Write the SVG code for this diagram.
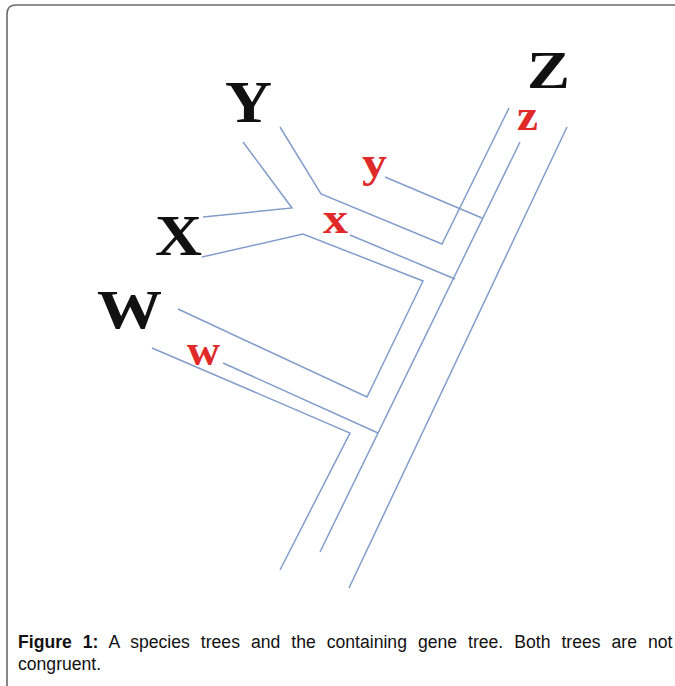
<svg xmlns="http://www.w3.org/2000/svg" width="675" height="686" viewBox="0 0 675 686">
<style>
.ln{fill:none;stroke:#829dcc;stroke-width:1.5;stroke-linejoin:miter}
.sp{font-family:"Liberation Serif","Times New Roman",serif;font-weight:bold;fill:#111}
.gn{font-family:"Liberation Serif","Times New Roman",serif;font-weight:bold;fill:#e02a2a}
.cap{font-family:"Liberation Sans",Arial,sans-serif;font-size:17.6px;fill:#111}
</style>
<rect width="675" height="686" fill="#fff"/>
<path d="M7 686 V14 Q7 5 16 5 H675" fill="none" stroke="#6a6a6a" stroke-width="1.6"/>
<g id="connectors">
<polyline class="ln" points="243,142 292,208 203,217"/>
<polyline class="ln" points="280,127 321,194 442,244 509,108"/>
<polyline class="ln" points="202,257 303,234 423,281 367,397 178,309"/>
<polyline class="ln" points="152,348 350,433 280,570"/>
<polyline class="ln" points="567,127 349,588"/>
<polyline class="ln" points="520,142 320,552"/>
<polyline class="ln" points="385,177 482,218"/>
<polyline class="ln" points="350,235 455,279"/>
<polyline class="ln" points="223,363 378,433"/>
</g>
<g id="node-Y"><text class="sp" x="225" y="122" font-size="59" textLength="47" lengthAdjust="spacingAndGlyphs">Y</text></g>
<g id="node-X"><text class="sp" x="155" y="255" font-size="56" textLength="47" lengthAdjust="spacingAndGlyphs">X</text></g>
<g id="node-W"><text class="sp" x="97" y="328" font-size="54" textLength="65" lengthAdjust="spacingAndGlyphs">W</text></g>
<g id="node-Z"><text class="sp" x="527" y="88" font-size="53" textLength="43" lengthAdjust="spacingAndGlyphs">Z</text></g>
<g id="node-y"><text class="gn" x="362" y="177" font-size="44" textLength="25" lengthAdjust="spacingAndGlyphs">y</text></g>
<g id="node-x"><text class="gn" x="323" y="233" font-size="44" textLength="25" lengthAdjust="spacingAndGlyphs">x</text></g>
<g id="node-z"><text class="gn" x="517" y="130" font-size="44" textLength="21" lengthAdjust="spacingAndGlyphs">z</text></g>
<g id="node-w"><text class="gn" x="187" y="365" font-size="44" textLength="33" lengthAdjust="spacingAndGlyphs">w</text></g>
<g id="caption">
<text class="cap" x="18" y="648" word-spacing="6.1"><tspan font-weight="bold">Figure 1:</tspan> A species trees and the containing gene tree. Both trees are not</text>
<text class="cap" x="18" y="670">congruent.</text>
</g>
</svg>
